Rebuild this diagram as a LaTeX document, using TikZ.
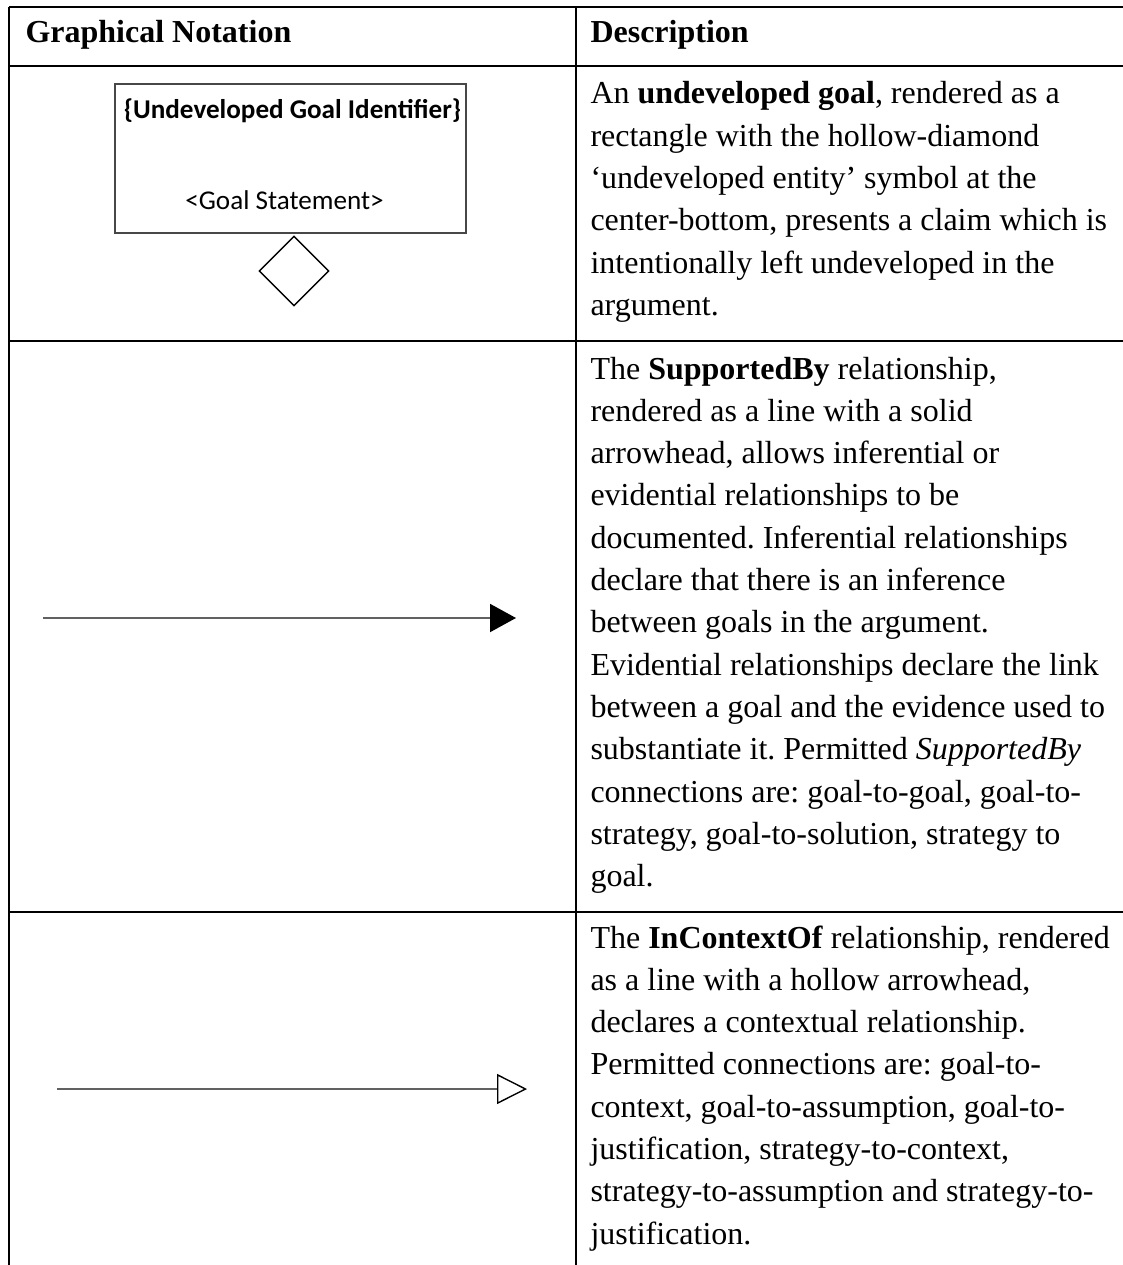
\documentclass[tikz,border=0pt]{standalone}
\usepackage{fontspec}
\setmainfont{Liberation Serif}
\newfontfamily\notationfont{Carlito}
\usetikzlibrary{arrows.meta,shapes.geometric}
\frenchspacing

\begin{document}
\begin{tikzpicture}[x=0.4pt,y=-0.4pt,
  rule/.style={line width=0.8pt, draw=black},
  celltext/.style={anchor=base west, inner sep=0pt, font=\fontsize{12.8pt}{16.92pt}\selectfont},
  goalbox/.style={draw=black!72, line width=0.75pt, minimum width=140.4pt, minimum height=59.6pt, inner sep=0pt},
  goaltext/.style={inner sep=0pt, font=\notationfont\fontsize{10.85pt}{13pt}\selectfont},
  undev/.style={diamond, draw=black, line width=0.55pt, aspect=1, minimum width=28pt, minimum height=28pt, inner sep=0pt},
  relline/.style={draw=black!62, line width=0.8pt}
]
\useasboundingbox (0,0) rectangle (1123,1265);
\fill[white] (0,0) rectangle (1123,1265);

% table rules (the right border and the bottom rule lie outside the page)
\draw[rule] (9,7) -- (1140,7);
\draw[rule] (9,66) -- (1140,66);
\draw[rule] (9,341) -- (1140,341);
\draw[rule] (9,912) -- (1140,912);
\draw[rule] (9,7) -- (9,1280);
\draw[rule] (576,7) -- (576,1280);

% header
\node[celltext] (hnot) at (25,43) {\textbf{Graphical Notation}};
\node[celltext] (hdesc) at (590,43) {\textbf{Description}};

% row 1: undeveloped goal
\node[goalbox] (goal) at (290.5,158.5) {};
\node[goaltext] (goalid) at (292.5,111) {\textbf{\{Undeveloped Goal Identifier\}}};
\node[goaltext, anchor=base] (goalstmt) at (284.5,210) {<Goal Statement>};
\node[undev] (diam) at (294,271) {};

\node[celltext] (d1) at (590,104) {\parbox[t]{260pt}{\raggedright
An \textbf{undeveloped goal}, rendered as a\\
rectangle with the hollow-diamond\\
‘undeveloped entity’ symbol at the\\
center-bottom, presents a claim which is\\
intentionally left undeveloped in the\\
argument.}};

% row 2: SupportedBy
\coordinate (sbfrom) at (43,618);
\coordinate (sbto) at (516,618);
\draw[relline, -{Triangle[length=10.4pt, width=11.2pt, black]}] (sbfrom) -- (sbto);

\node[celltext] (d2) at (590,379) {\parbox[t]{260pt}{\raggedright
The \textbf{SupportedBy} relationship,\\
rendered as a line with a solid\\
arrowhead, allows inferential or\\
evidential relationships to be\\
documented. Inferential relationships\\
declare that there is an inference\\
between goals in the argument.\\
Evidential relationships declare the link\\
between a goal and the evidence used to\\
substantiate it. Permitted \textit{SupportedBy}\\
connections are: goal-to-goal, goal-to-\\
strategy, goal-to-solution, strategy to\\
goal.}};

% row 3: InContextOf
\coordinate (icfrom) at (57,1089);
\coordinate (icto) at (527,1089);
\draw[relline, -{Triangle[open, length=12pt, width=12pt, black, line width=0.55pt]}] (icfrom) -- (icto);

\node[celltext] (d3) at (590,948) {\parbox[t]{260pt}{\raggedright
The \textbf{InContextOf} relationship, rendered\\
as a line with a hollow arrowhead,\\
declares a contextual relationship.\\
Permitted connections are: goal-to-\\
context, goal-to-assumption, goal-to-\\
justification, strategy-to-context,\\
strategy-to-assumption and strategy-to-\\
justification.}};
\end{tikzpicture}
\end{document}
